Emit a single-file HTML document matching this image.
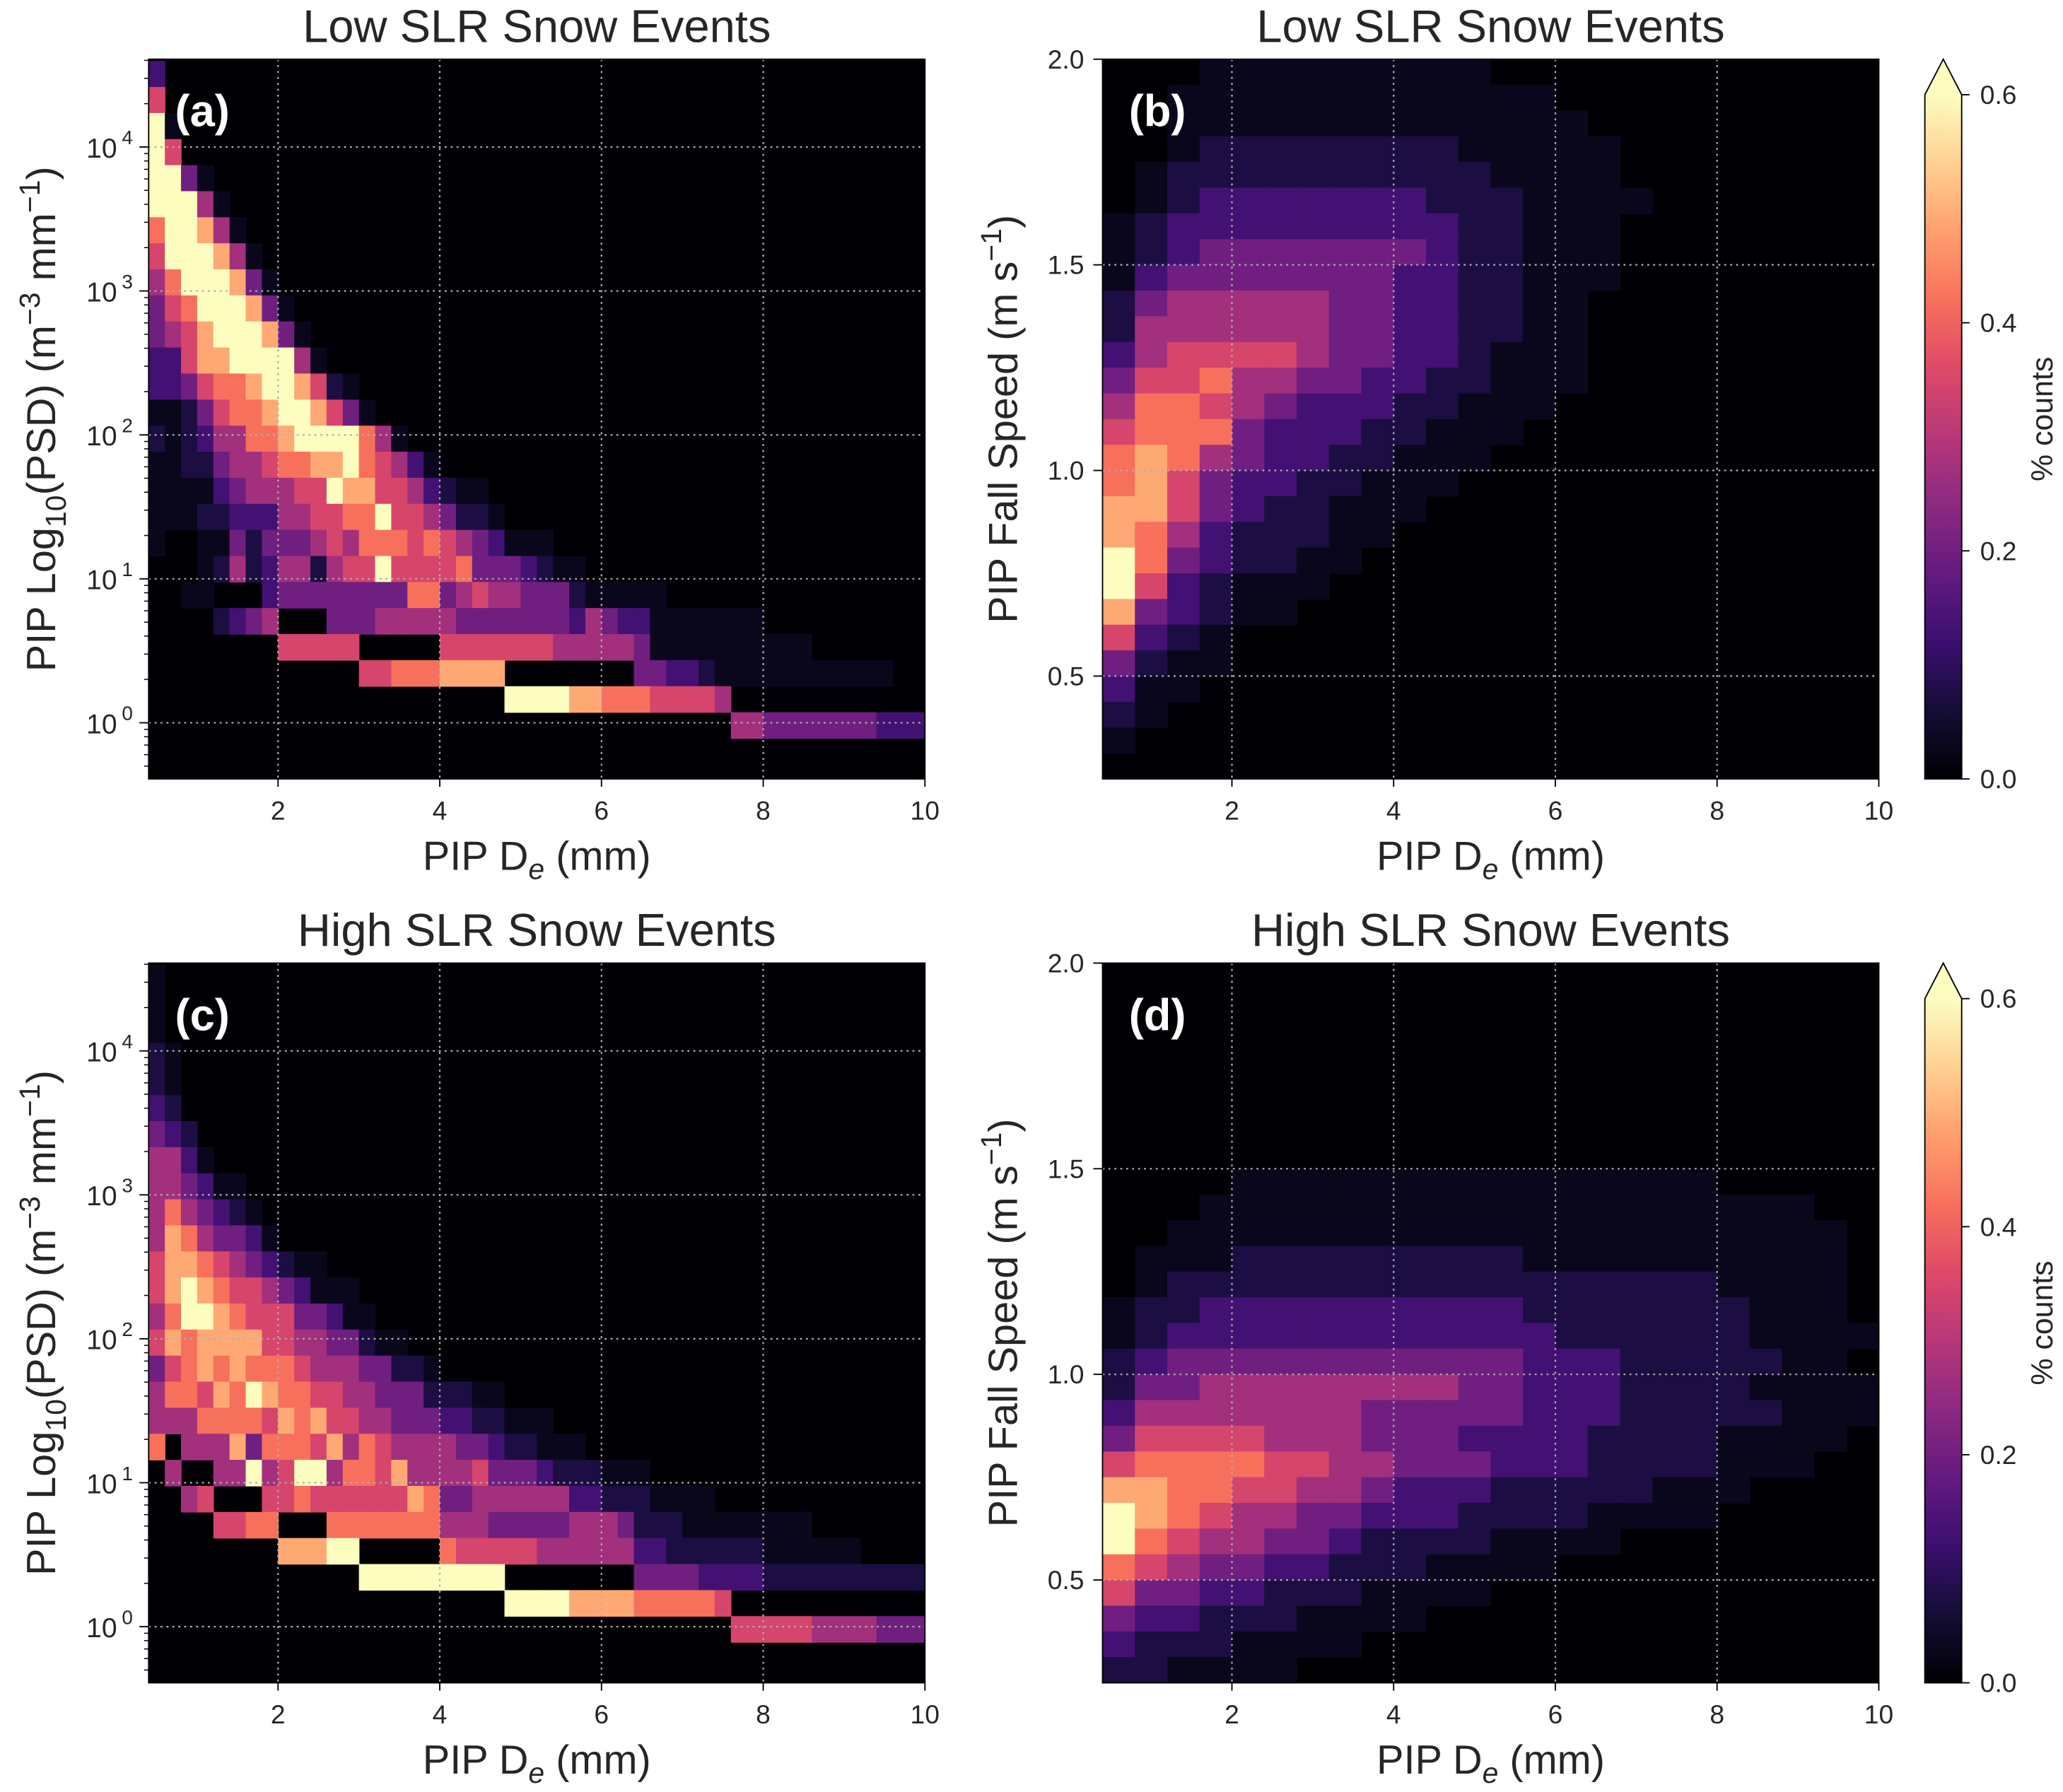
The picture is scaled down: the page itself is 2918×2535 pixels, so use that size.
<!DOCTYPE html>
<html><head><meta charset="utf-8">
<style>
html,body{margin:0;padding:0;background:#fff;}
svg{display:block;}
text{font-family:"Liberation Sans","DejaVu Sans",sans-serif;fill:#262626;}
</style></head>
<body>
<svg id="fig" xmlns="http://www.w3.org/2000/svg" width="2918" height="2535" viewBox="0 0 1568 1362" preserveAspectRatio="none">
<defs>
<linearGradient id="magmaGrad" x1="0" y1="1" x2="0" y2="0">
<stop offset="0" stop-color="#000004"/><stop offset="0.1" stop-color="#140e36"/><stop offset="0.2" stop-color="#3b0f70"/><stop offset="0.3" stop-color="#641a80"/><stop offset="0.4" stop-color="#8c2981"/><stop offset="0.5" stop-color="#b73779"/><stop offset="0.6" stop-color="#de4968"/><stop offset="0.7" stop-color="#f7705c"/><stop offset="0.8" stop-color="#fe9f6d"/><stop offset="0.9" stop-color="#fecf92"/><stop offset="1" stop-color="#fcfdbf"/>
</linearGradient>
</defs>
<g id="layer"></g>
</svg>
<script>
// ---- data: digit level 0-9 per cell; levelValues maps level -> % counts ----
const levelValues = [0, 0.03, 0.072, 0.132, 0.198, 0.27, 0.348, 0.42, 0.492, 0.6];
const psdLowRows = ["3","6","91","96","9941","99951","799851","6999851","57999841","467999841","4568999841","33688999951","3346778998621","11246778998641","2123557789999751","112245567788976531","111134555669886653211","1112233355667796654221","1001142444565777676543111","000125235525669666674443211","00110003444444447745655444211111","00002345000444555554444444354331111111","00000000666660000066666665555541111111111","0000000000000667778888000000004433211111111111","0000000000000000000000999988777666650","000000000000000000000000000000000000554444444333"];
const psdHighRows = ["1","1","1","21","21","32","432","5531","554311","5754321","58754431","68876543211","6898766543111","57998766644311","6878888665544211","467878777655544221","5776879877665544422211","5557777687866554443322111","705558477768576555544322111","0500559569957768555564443222111","00560006676666668744555555332221111","00006677000777777755544444555422211111111","000000008889900000766666555555332222221111110","000000000000099999999900000000444433332222222222","0000000000000000000000999988887777760","000000000000000000000000000000000000666665555444"];
const vtLowRows = ["000111111111000000000000","001111111111110000000000","001111111111111000000000","001222222221111100000000","012222222222111100000000","012333333322211110000000","123333333332211100000000","123444444432211100000000","134444444332211100000000","245555544332211000000000","255555544332211000000000","356666544332111000000000","466755443322111000000000","577654333221110000000000","677743332211100000000000","787543322111000000000000","786433221110000000000000","886432211100000000000000","875322211000000000000000","974322110000000000000000","963211100000000000000000","843211000000000000000000","632100000000000000000000","421100000000000000000000","311000000000000000000000","210000000000000000000000","100000000000000000000000","000000000000000000000000"];
const vtHighRows = ["000000000000000000000000","000000000000000000000000","000000000000000000000000","000000000000000000000000","000000000000000000000000","000000000000000000000000","000000000000000000000000","000000000000000000000000","000011111111111111100000","000111111111111111111100","001111111111111111111110","011122222222211111111110","012222222222222222211110","122333333333322222221110","123333333333332222221111","234444444444433322222110","244555555554433322221111","355555554444433322222111","466665554443333222211110","677776655444333222211100","887766554333222221110000","987655443332222111100000","976554432222111100000000","765443322211110000000000","644332221111000000000000","433222111100000000000000","322211110000000000000000","221111000000000000000000"];
const xTicks = [2,4,6,8,10];
const psdTicks = [0,1,2,3,4];
const vtTicks = [0.5,1.0,1.5,2.0];
const cbTicks = [0.0,0.2,0.4,0.6];
const titles = ["Low SLR Snow Events","Low SLR Snow Events","High SLR Snow Events","High SLR Snow Events"];

const NS="http://www.w3.org/2000/svg";
const layer=document.getElementById('layer');
function mk(tag,attrs,parent){const e=document.createElementNS(NS,tag);for(const k in attrs)e.setAttribute(k,attrs[k]);(parent||layer).appendChild(e);return e;}
const stops=[[0,[0,0,4]],[0.1,[20,14,54]],[0.2,[59,15,112]],[0.3,[100,26,128]],[0.4,[140,41,129]],[0.5,[183,55,121]],[0.6,[222,73,104]],[0.7,[247,112,92]],[0.8,[254,159,109]],[0.9,[254,207,146]],[1,[252,253,191]]];
function magma(t){t=Math.max(0,Math.min(1,t));for(let i=1;i<stops.length;i++){if(t<=stops[i][0]){const a=stops[i-1],b=stops[i];const f=(t-a[0])/(b[0]-a[0]);const c=a[1].map((v,k)=>Math.round(v+(b[1][k]-v)*f));return `rgb(${c[0]},${c[1]},${c[2]})`;}}return 'rgb(252,253,191)';}
const VMAX=0.6;
function val(d){return levelValues[d];}

const W=590,H=547;
const panels=[
 {id:'a',L:113,T:45,kind:'psd',rows:psdLowRows,title:titles[0]},
 {id:'b',L:838,T:45,kind:'vt',rows:vtLowRows,title:titles[1]},
 {id:'c',L:113,T:732,kind:'psd',rows:psdHighRows,title:titles[2]},
 {id:'d',L:838,T:732,kind:'vt',rows:vtHighRows,title:titles[3]}
];
const XMIN=0.4,XMAX=10;
panels.forEach(p=>{
 const xs=v=>p.L+(v-XMIN)/(XMAX-XMIN)*W;
 const ys=p.kind==='psd'?(v=>p.T+(4.61-v)/5*H):(v=>p.T+(2.0-v)/1.75*H);
 const g=mk('g',{});
 
 
 const bg=mk('rect',{x:p.L,y:p.T,width:W,height:H,fill:'#000004'},g);
 
 
 const clip=mk('g',{},g);
 if(p.kind==='psd'){
  const nR=p.rows.length;
  p.rows.forEach((r,j)=>{
   const lo=-0.108+0.181*(nR-1-j), hi=lo+0.181;
   for(let c=0;c<r.length;c++){const d=+r[c];if(!d)continue;
    const x0=XMIN+0.2*c,x1=x0+0.2;
    const y0=Math.max(ys(hi),p.T);
    const cell=mk('rect',{x:xs(x0),y:y0,width:xs(x1)-xs(x0)+0.4,height:ys(lo)-y0+0.4,fill:magma(val(d)/VMAX)},clip);
    
    
   }
  });
 } else {
  p.rows.forEach((r,j)=>{
   const hi=2.0-0.0625*j, lo=hi-0.0625;
   for(let c=0;c<r.length;c++){const d=+r[c];if(!d)continue;
    const x0=XMIN+0.4*c,x1=x0+0.4;
    const cell=mk('rect',{x:xs(x0),y:ys(hi),width:xs(x1)-xs(x0)+0.4,height:ys(lo)-ys(hi)+0.4,fill:magma(val(d)/VMAX)},clip);
    
    
   }
  });
 }
 xTicks.slice(0,4).forEach(v=>{const l=mk('line',{x1:xs(v),x2:xs(v),y1:p.T,y2:p.T+H,stroke:'#b0b0b0','stroke-width':1.2,'stroke-dasharray':'1.5,3'},g);
  });
 const yt=p.kind==='psd'?psdTicks:vtTicks.slice(0,3);
 yt.forEach(v=>{const l=mk('line',{x1:p.L,x2:p.L+W,y1:ys(v),y2:ys(v),stroke:'#b0b0b0','stroke-width':1.2,'stroke-dasharray':'1.5,3'},g);
  });
 const fr=mk('rect',{x:p.L,y:p.T,width:W,height:H,fill:'none',stroke:'#000','stroke-width':1},g);
 
 xTicks.forEach(v=>{mk('line',{x1:xs(v),x2:xs(v),y1:p.T+H,y2:p.T+H+6,stroke:'#000','stroke-width':1},g);
  const t=mk('text',{x:xs(v),y:p.T+H+31,'text-anchor':'middle','font-size':20},g);t.textContent=v;
  });
 if(p.kind==='psd'){
  for(let n=-1;n<=4;n++){for(let k=2;k<=9;k++){const lv=n+Math.log10(k);if(lv<-0.39||lv>4.61)continue;
   mk('line',{x1:p.L-3.5,x2:p.L,y1:ys(lv),y2:ys(lv),stroke:'#000','stroke-width':0.8},g);}}
  psdTicks.forEach(v=>{mk('line',{x1:p.L-7,x2:p.L,y1:ys(v),y2:ys(v),stroke:'#000','stroke-width':1},g);
   const t=mk('text',{x:p.L-24,y:ys(v)+8,'text-anchor':'end','font-size':21},g);
   
   t.appendChild(document.createTextNode('10'));
   const s=mk('tspan',{x:p.L-12,y:ys(v)-2,'font-size':15,'text-anchor':'end'},t);s.textContent=v;});
 } else {
  vtTicks.forEach(v=>{mk('line',{x1:p.L-7,x2:p.L,y1:ys(v),y2:ys(v),stroke:'#000','stroke-width':1},g);
   const t=mk('text',{x:p.L-14,y:ys(v)+7,'text-anchor':'end','font-size':20},g);t.textContent=v.toFixed(1);
   });
 }
 const tt=mk('text',{x:p.L+W/2,y:p.T-13,'text-anchor':'middle','font-size':35},g);tt.textContent=p.title;
 
 const xl=mk('text',{x:p.L+W/2,y:p.T+H+69,'text-anchor':'middle','font-size':31},g);
 
 xl.appendChild(document.createTextNode('PIP D'));
 const sb=mk('tspan',{'font-size':22,dy:7,'font-style':'italic'},xl);sb.textContent='e';
 const rest=mk('tspan',{dy:-7},xl);rest.textContent=' (mm)';
 const cy=p.T+H/2;
 if(p.kind==='psd'){
  const yl=mk('text',{x:0,y:0,'text-anchor':'middle','font-size':31,transform:`translate(${p.L-71},${cy}) rotate(-90)`},g);
  
  yl.appendChild(document.createTextNode('PIP Log'));
  let s1=mk('tspan',{'font-size':22,dy:8},yl);s1.textContent='10';
  let s2=mk('tspan',{dy:-8},yl);s2.textContent='(PSD) (m';
  let s3=mk('tspan',{'font-size':22,dy:-12},yl);s3.textContent='\u22123';
  let s4=mk('tspan',{dy:12},yl);s4.textContent=' mm';
  let s5=mk('tspan',{'font-size':22,dy:-12},yl);s5.textContent='\u22121';
  let s6=mk('tspan',{dy:12},yl);s6.textContent=')';
 } else {
  const yl=mk('text',{x:0,y:0,'text-anchor':'middle','font-size':31,transform:`translate(${p.L-65},${cy}) rotate(-90)`},g);
  
  yl.appendChild(document.createTextNode('PIP Fall Speed (m s'));
  let s1=mk('tspan',{'font-size':22,dy:-12},yl);s1.textContent='\u22121';
  let s2=mk('tspan',{dy:12},yl);s2.textContent=')';
 }
 const pl=mk('text',{x:p.L+20,y:p.T+51,'font-size':34,'font-weight':'bold',style:'fill:#fff'},g);pl.textContent='('+p.id+')';
 
 if(p.kind==='vt'){
  const cx=1463,cw=28,ct=p.T+27,cb=p.T+H;
  const cg=mk('g',{},g);
  
  mk('rect',{x:cx,y:ct,width:cw,height:cb-ct,fill:'url(#magmaGrad)'},cg);
  mk('polygon',{points:`${cx},${ct} ${cx+cw/2},${p.T} ${cx+cw},${ct}`,fill:'#fcfdbf'},cg);
  mk('polygon',{points:`${cx},${cb} ${cx},${ct} ${cx+cw/2},${p.T} ${cx+cw},${ct} ${cx+cw},${cb}`,fill:'none',stroke:'#000','stroke-width':1},cg);
  const cys=v=>cb-(v/0.6)*(cb-ct);
  cbTicks.forEach(v=>{mk('line',{x1:cx+cw,x2:cx+cw+6,y1:cys(v),y2:cys(v),stroke:'#000','stroke-width':1},cg);
   const t=mk('text',{x:cx+cw+14,y:cys(v)+7,'font-size':20},cg);t.textContent=v.toFixed(1);
   });
  const cl=mk('text',{x:0,y:0,'text-anchor':'middle','font-size':23,transform:`translate(${1560},${cy}) rotate(-90)`},cg);
  cl.textContent='% counts';
  
 }
});
</script>
</body></html>
